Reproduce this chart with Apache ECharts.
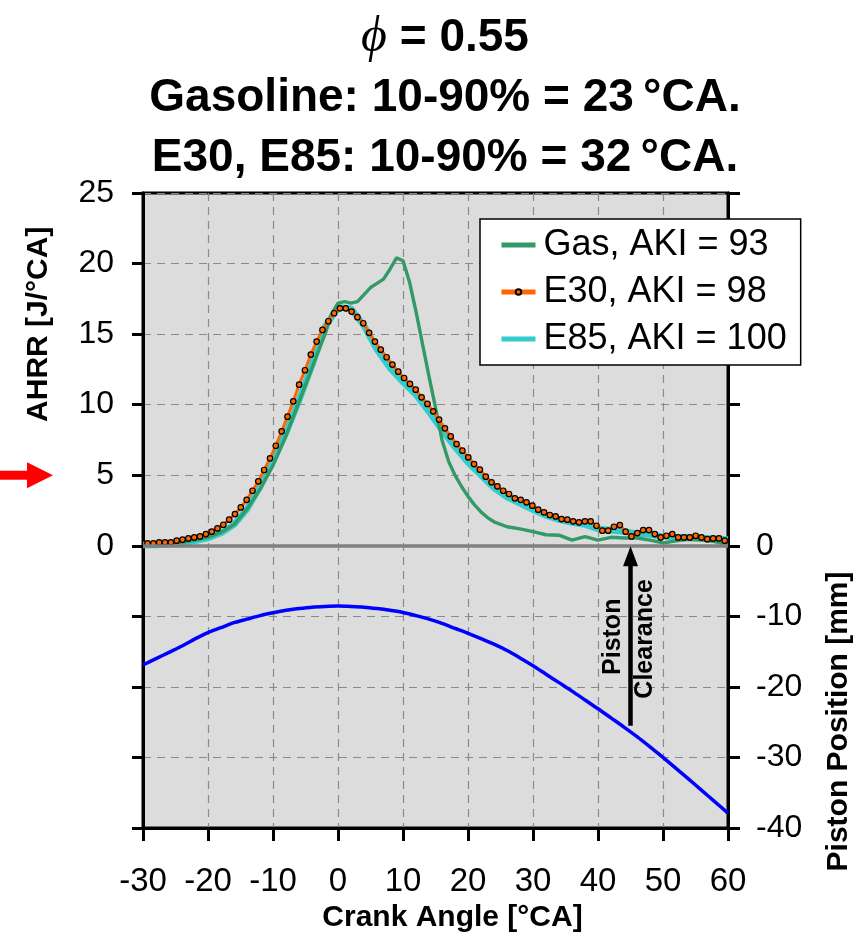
<!DOCTYPE html>
<html>
<head>
<meta charset="utf-8">
<script src="https://cdn.jsdelivr.net/npm/echarts@6/dist/echarts.min.js"></script>
<style>
html, body { margin: 0; padding: 0; background: #fff; }
#main { width: 867px; height: 940px; }
</style>
</head>
<body>
<div id="main"></div>
<script>
// crank angle grid (2 CA) used by E85 and piston position
const ca2 = [-30,-28,-26,-24,-22,-20,-18,-16,-14,-12,-10,-8,-6,-4,-2,0,2,4,6,8,10,12,14,16,18,20,22,24,26,28,30,32,34,36,38,40,42,44,46,48,50,52,54,56,58,60];

// gasoline, AKI 93 (finer near the peak)
const caGas = [-30,-28,-26,-24,-22,-20,-18,-16,-14,-12,-10,-8,-6,-4,-2,-1,0,1,2,3,4,5,6,7,8,9,10,11,12,13,14,15,16,17,18,19,20,21,22,23,24,26,28,30,32,34,36,38,40,42,44,46,48,50,52,54,56,58,60];
const gasAhrr = [0.1,0.1,0.15,0.25,0.4,0.6,0.95,1.5,2.6,4.0,5.7,7.8,10.2,12.6,15.0,16.4,17.2,17.3,17.2,17.3,17.8,18.3,18.6,18.9,19.6,20.4,20.2,18.7,16.6,14.3,12.0,9.8,7.5,6.0,5.0,4.2,3.5,2.9,2.4,2.0,1.7,1.35,1.2,1.0,0.78,0.75,0.4,0.65,0.4,0.6,0.55,0.55,0.4,0.2,0.35,0.45,0.4,0.3,0.05];

// E30, AKI 98 : one value per marker, first marker at -29.3 CA, spacing 0.897 CA
const e30Start = -29.3;
const e30Step = 0.897;
const e30Ahrr = [0.17,0.17,0.24,0.24,0.24,0.36,0.43,0.52,0.59,0.66,0.83,1.0,1.23,1.49,1.85,2.25,2.72,3.26,3.9,4.57,5.37,6.2,7.09,8.11,9.15,10.24,11.42,12.44,13.55,14.47,15.3,15.91,16.48,16.83,16.83,16.6,16.2,15.77,15.09,14.47,13.9,13.36,12.84,12.34,11.89,11.47,11.06,10.52,10.05,9.53,8.94,8.32,7.75,
  7.21,6.74,6.27,5.79,5.39,4.9,4.5,4.21,3.9,3.67,3.36,3.26,3.08,2.84,2.56,2.37,2.18,2.08,1.89,1.85,1.73,1.66,1.73,1.73,1.42,1.07,1.07,1.35,1.47,1.0,0.66,0.9,1.11,1.11,0.83,0.59,0.71,0.83,0.59,0.59,0.59,0.71,0.59,0.47,0.52,0.52,0.36];

// E85, AKI 100
const e85Ahrr = [0.05,0.05,0.1,0.2,0.35,0.55,0.9,1.5,2.6,4.2,6.0,8.0,10.3,12.8,15.5,16.9,16.8,15.6,13.9,12.6,11.6,10.7,9.5,8.2,7.0,5.9,5.0,4.1,3.45,3.0,2.55,2.15,1.85,1.65,1.5,1.2,1.1,1.0,0.85,0.8,0.65,0.6,0.6,0.55,0.5,0.45];

// piston position [mm]
const pistonPos = [-16.9,-16.0,-15.1,-14.2,-13.2,-12.3,-11.6,-10.9,-10.4,-9.9,-9.5,-9.15,-8.9,-8.7,-8.6,-8.55,-8.6,-8.7,-8.9,-9.15,-9.45,-9.9,-10.4,-11.0,-11.7,-12.4,-13.15,-13.95,-14.85,-15.9,-17.0,-18.2,-19.4,-20.6,-21.85,-23.1,-24.4,-25.7,-27.05,-28.5,-30.0,-31.55,-33.1,-34.7,-36.3,-37.9];

// arrow "Piston Clearance": crank angle and start/end piston position
const clearanceCA = 45;
const clearanceFrom = -25.5;
const clearanceTo = -1.5;

const titleLines = ['{phi|ϕ} = 0.55', 'Gasoline: 10-90% = 23\u2009°CA.', 'E30, E85: 10-90% = 32\u2009°CA.'];

const FONT = '"Liberation Sans", Arial, sans-serif';

function pairs(xs, ys) {
  return ys.map(function (v, i) { return [xs[i], v]; });
}
const e30Data = e30Ahrr.map(function (v, i) { return [+(e30Start + i * e30Step).toFixed(2), v]; });

const chart = echarts.init(document.getElementById('main'));

const dash = { color: '#8a8a8a', width: 1.2, type: [8, 6] };

const option = {
  backgroundColor: '#fff',
  animation: false,
  title: {
    text: titleLines.join('\n'),
    left: 440,
    top: 3,
    textAlign: 'center',
    textStyle: {
      fontFamily: FONT, fontSize: 46, fontWeight: 'bold', color: '#000', lineHeight: 60,
      rich: {
        phi: { fontFamily: '"Liberation Serif", "DejaVu Serif", serif', fontStyle: 'italic', fontSize: 50, fontWeight: 'normal', lineHeight: 60 }
      }
    }
  },
  grid: {
    left: 143, right: 139, top: 193, bottom: 112,
    show: true, backgroundColor: '#dcdcdc', borderColor: '#000', borderWidth: 3
  },
  legend: {
    orient: 'vertical',
    left: 480, top: 219,
    padding: [6, 14, 6, 19],
    backgroundColor: '#fff',
    borderColor: '#000',
    borderWidth: 1.5,
    borderRadius: 0,
    itemWidth: 34,
    itemHeight: 7,
    itemGap: 7,
    data: [
      { name: 'Gas, AKI = 93', itemStyle: { opacity: 0 }, lineStyle: { width: 5 } },
      { name: 'E30, AKI = 98', lineStyle: { width: 5 } },
      { name: 'E85, AKI = 100', itemStyle: { opacity: 0 }, lineStyle: { width: 5 } }
    ],
    textStyle: { fontFamily: FONT, fontSize: 36, color: '#000', lineHeight: 40, padding: [0, 0, 0, 3] }
  },
  xAxis: {
    type: 'value', min: -30, max: 60, interval: 10,
    name: 'Crank Angle [°CA]',
    nameLocation: 'middle', nameGap: 75,
    nameTextStyle: { fontFamily: FONT, fontSize: 30, fontWeight: 'bold', color: '#000', padding: [0, 0, 0, 34] },
    axisLine: { onZero: false, lineStyle: { color: '#000', width: 3 } },
    axisTick: { length: 13, lineStyle: { color: '#000', width: 3 } },
    axisLabel: { fontFamily: FONT, fontSize: 33, color: '#000', margin: 37 },
    splitLine: { show: true, lineStyle: dash }
  },
  yAxis: [{
    type: 'value', min: -20, max: 25, interval: 5,
    axisLine: { show: true, onZero: false, lineStyle: { color: '#000', width: 3 } },
    axisTick: { show: true, length: 11, lineStyle: { color: '#000', width: 3 } },
    axisLabel: {
      fontFamily: FONT, fontSize: 32, color: '#000', margin: 29,
      formatter: function (v) { return v >= 0 ? v : ''; }
    },
    splitLine: { show: true, lineStyle: dash }
  }, {
    type: 'value', min: -40, max: 50, interval: 10, position: 'right',
    axisLine: { show: true, onZero: false, lineStyle: { color: '#000', width: 3 } },
    axisTick: { show: true, length: 12, lineStyle: { color: '#000', width: 3 } },
    axisLabel: {
      fontFamily: FONT, fontSize: 32, color: '#000', margin: 28,
      formatter: function (v) { return v <= 0 ? v : ''; }
    },
    splitLine: { show: false }
  }],
  series: [{
    name: 'E85, AKI = 100',
    type: 'line',
    data: pairs(ca2, e85Ahrr),
    symbol: 'none',
    color: '#33cccc',
    lineStyle: { width: 6.5, color: '#33cccc' },
    z: 2,
    markLine: {
      silent: true, symbol: 'none', label: { show: false },
      lineStyle: { color: '#808080', width: 3.5, type: 'solid' },
      data: [{ yAxis: 0 }]
    }
  }, {
    name: 'Gas, AKI = 93',
    type: 'line',
    data: pairs(caGas, gasAhrr),
    symbol: 'none',
    color: '#339966',
    lineStyle: { width: 3.4, color: '#339966' },
    z: 3
  }, {
    name: 'E30, AKI = 98',
    type: 'line',
    data: e30Data,
    symbol: 'circle',
    symbolSize: 5.5,
    showSymbol: true,
    color: '#ff6600',
    itemStyle: { color: '#ff6600', borderColor: '#000', borderWidth: 1.2 },
    lineStyle: { width: 3, color: '#ff6600' },
    z: 4
  }, {
    name: 'Piston Position',
    type: 'line',
    yAxisIndex: 1,
    data: pairs(ca2, pistonPos),
    symbol: 'none',
    smooth: 0.3,
    lineStyle: { width: 3.5, color: '#0000ff' },
    z: 3,
    markLine: {
      silent: true,
      symbol: ['none', 'triangle'],
      symbolSize: [15, 20],
      label: { show: false },
      lineStyle: { color: '#000', width: 4.5, type: 'solid' },
      data: [[{ coord: [clearanceCA, clearanceFrom] }, { coord: [clearanceCA, clearanceTo] }]]
    }
  }]
};

chart.setOption(option);

// annotation texts placed through the axes
const pPiston = chart.convertToPixel({ xAxisIndex: 0, yAxisIndex: 1 }, [42.3, -12.9]);
const pClear = chart.convertToPixel({ xAxisIndex: 0, yAxisIndex: 1 }, [47.2, -13.2]);
const yTitleL = chart.convertToPixel({ yAxisIndex: 0 }, 15.7);
const yTitleR = chart.convertToPixel({ yAxisIndex: 1 }, -24.9);
const yFive = chart.convertToPixel({ yAxisIndex: 0 }, 5);

function vtext(x, y, txt, size) {
  return {
    type: 'text', x: x, y: y, rotation: Math.PI / 2,
    style: { text: txt, fontFamily: FONT, fontSize: size, fontWeight: 'bold', fill: '#000', align: 'center', verticalAlign: 'middle' },
    z: 20
  };
}

chart.setOption({
  graphic: [
    vtext(pPiston[0], pPiston[1], 'Piston', 25),
    vtext(pClear[0], pClear[1], 'Clearance', 25),
    vtext(39, yTitleL, 'AHRR [J/°CA]', 30),
    vtext(839, yTitleR, 'Piston Position [mm]', 30),
    // red pointer to the 5 J/CA tick
    { type: 'rect', shape: { x: 0, y: yFive - 4.5, width: 29, height: 9 }, style: { fill: '#ff0000' }, z: 20 },
    { type: 'polygon', shape: { points: [[27, yFive - 13], [53, yFive], [27, yFive + 13]] }, style: { fill: '#ff0000' }, z: 20 }
  ]
});
</script>
</body>
</html>
